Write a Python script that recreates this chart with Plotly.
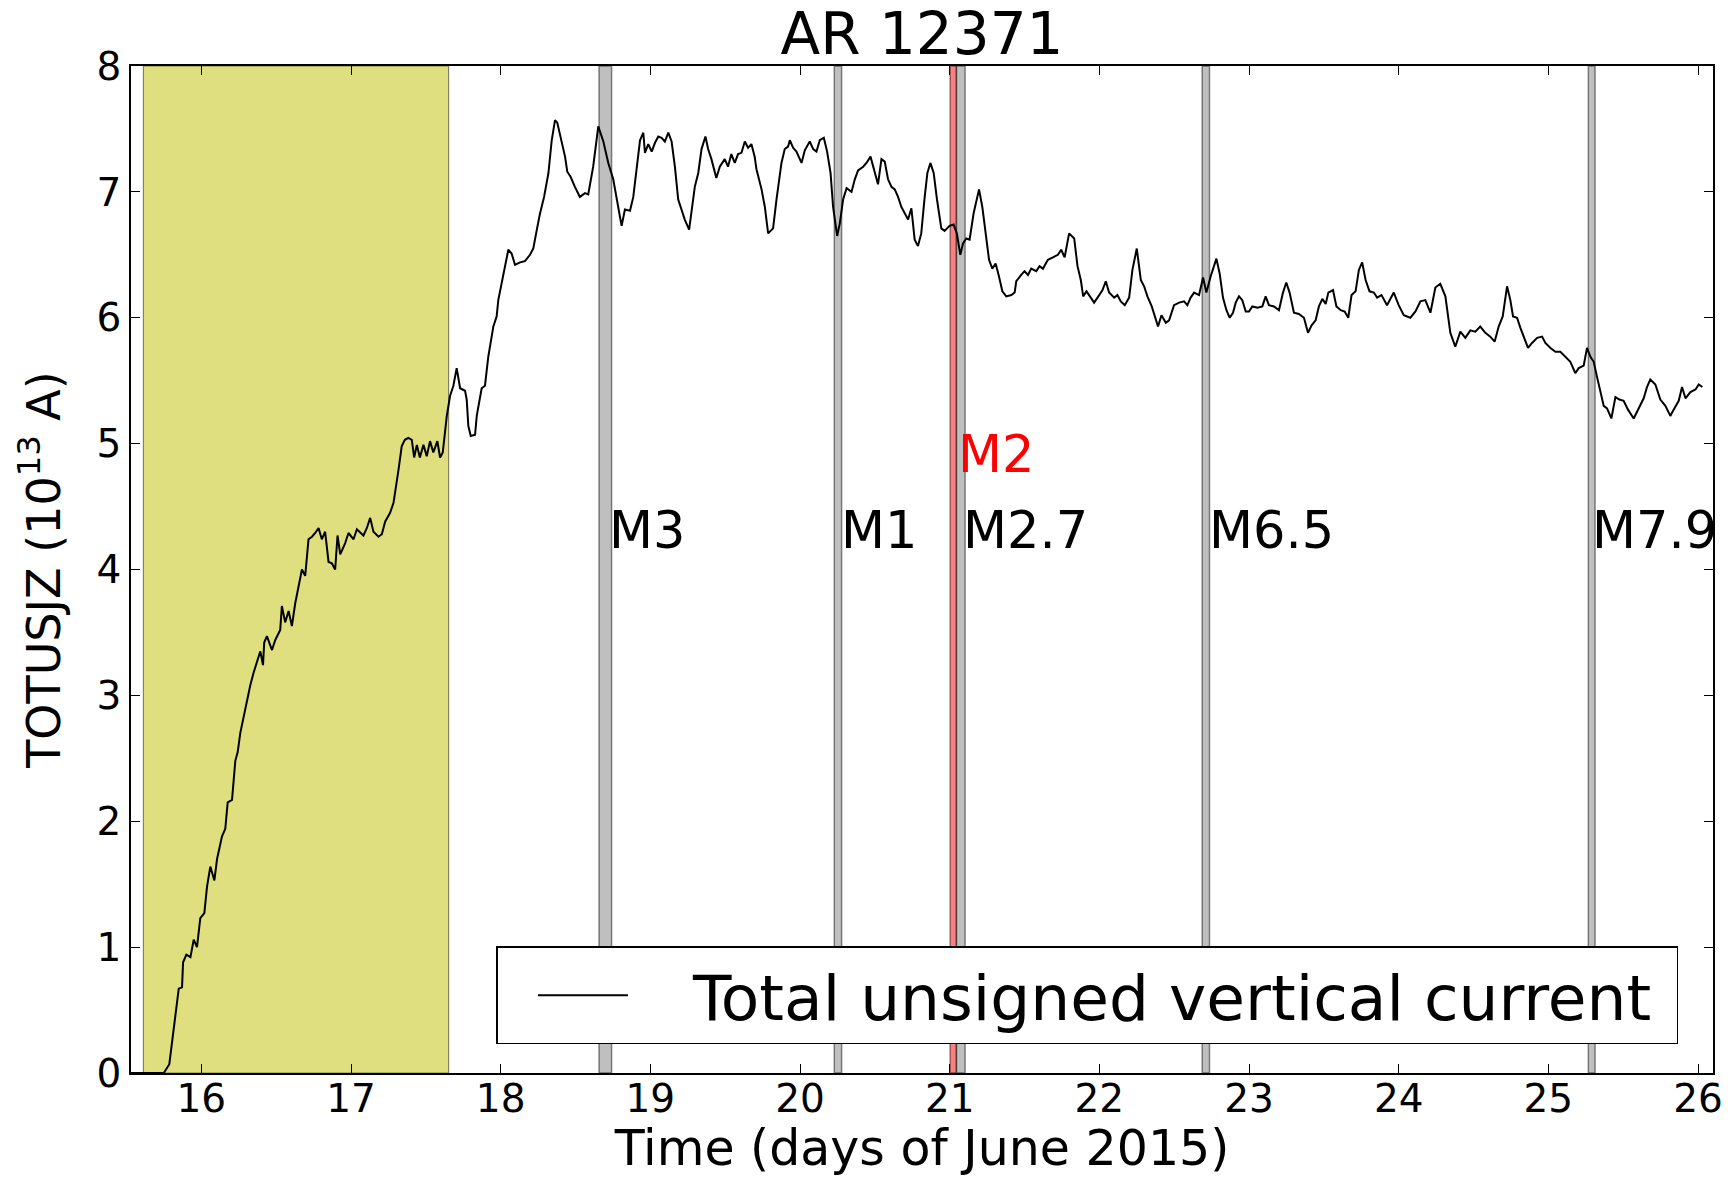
import plotly.graph_objects as go

# ---------------- data ----------------
time_days = [
    15.53, 15.60, 15.70, 15.749, 15.786, 15.815, 15.849, 15.871, 15.878, 15.90,
    15.927, 15.949, 15.971, 15.993, 16.02, 16.038, 16.06, 16.087, 16.105, 16.138,
    16.16, 16.176, 16.205, 16.227, 16.243, 16.26, 16.283, 16.305, 16.327, 16.349,
    16.371, 16.394, 16.412, 16.42, 16.438, 16.472, 16.494, 16.527, 16.538, 16.56,
    16.583, 16.605, 16.627, 16.654, 16.672, 16.694, 16.716, 16.739, 16.761, 16.783,
    16.805, 16.827, 16.85, 16.872, 16.894, 16.91, 16.928, 16.961, 16.983, 17.017,
    17.039, 17.083, 17.106, 17.128, 17.15, 17.184, 17.206, 17.228, 17.261, 17.284,
    17.295, 17.317, 17.339, 17.36, 17.383, 17.406, 17.422, 17.44, 17.46, 17.484,
    17.506, 17.528, 17.55, 17.577, 17.595, 17.613, 17.64, 17.662, 17.684, 17.706,
    17.729, 17.762, 17.773, 17.784, 17.80, 17.829, 17.84, 17.873, 17.895, 17.917,
    17.951, 17.973, 17.984, 18.007, 18.029, 18.051, 18.073, 18.096, 18.129, 18.162,
    18.196, 18.218, 18.24, 18.263, 18.29, 18.319, 18.341, 18.363, 18.378, 18.407,
    18.43, 18.445, 18.467, 18.496, 18.529, 18.563, 18.585, 18.618, 18.652, 18.686,
    18.719, 18.752, 18.786, 18.808, 18.83, 18.864, 18.886, 18.908, 18.931, 18.953,
    18.964, 18.986, 19.009, 19.031, 19.053, 19.075, 19.097, 19.12, 19.142, 19.164,
    19.186, 19.208, 19.23, 19.259, 19.275, 19.297, 19.32, 19.342, 19.368, 19.386,
    19.408, 19.441, 19.464, 19.497, 19.519, 19.541, 19.564, 19.586, 19.609, 19.631,
    19.653, 19.675, 19.697, 19.709, 19.743, 19.765, 19.787, 19.82, 19.843, 19.876,
    19.898, 19.92, 19.932, 19.954, 19.976, 20.01, 20.032, 20.065, 20.088, 20.11,
    20.132, 20.159, 20.181, 20.204, 20.221, 20.239, 20.248, 20.266, 20.288, 20.311,
    20.344, 20.366, 20.388, 20.422, 20.444, 20.471, 20.499, 20.521, 20.544, 20.566,
    20.588, 20.611, 20.633, 20.655, 20.677, 20.699, 20.722, 20.744, 20.766, 20.788,
    20.81, 20.833, 20.851, 20.871, 20.893, 20.915, 20.944, 20.966, 20.999, 21.026,
    21.048, 21.071, 21.089, 21.111, 21.133, 21.16, 21.178, 21.196, 21.218, 21.24,
    21.263, 21.285, 21.307, 21.329, 21.352, 21.378, 21.412, 21.434, 21.445, 21.478,
    21.50, 21.523, 21.545, 21.578, 21.60, 21.623, 21.656, 21.69, 21.723, 21.745,
    21.768, 21.798, 21.832, 21.854, 21.876, 21.892, 21.914, 21.937, 21.965, 21.999,
    22.021, 22.043, 22.065, 22.099, 22.121, 22.143, 22.17, 22.199, 22.221, 22.25,
    22.277, 22.299, 22.321, 22.35, 22.377, 22.392, 22.415, 22.444, 22.466, 22.499,
    22.533, 22.566, 22.588, 22.61, 22.633, 22.666, 22.693, 22.715, 22.744, 22.782,
    22.804, 22.826, 22.849, 22.871, 22.893, 22.911, 22.933, 22.955, 22.978, 23.00,
    23.022, 23.056, 23.089, 23.111, 23.133, 23.167, 23.20, 23.227, 23.249, 23.271,
    23.30, 23.333, 23.367, 23.394, 23.418, 23.445, 23.467, 23.49, 23.512, 23.53,
    23.561, 23.584, 23.613, 23.639, 23.663, 23.685, 23.712, 23.734, 23.756, 23.779,
    23.805, 23.834, 23.856, 23.885, 23.922, 23.967, 24.00, 24.034, 24.078, 24.112,
    24.145, 24.178, 24.212, 24.245, 24.278, 24.312, 24.345, 24.378, 24.412, 24.445,
    24.479, 24.512, 24.545, 24.579, 24.612, 24.641, 24.668, 24.695, 24.724, 24.746,
    24.764, 24.791, 24.813, 24.835, 24.864, 24.891, 24.925, 24.958, 24.98, 25.014,
    25.047, 25.08, 25.114, 25.147, 25.18, 25.203, 25.236, 25.258, 25.281, 25.303,
    25.325, 25.348, 25.37, 25.392, 25.421, 25.448, 25.475, 25.503, 25.532, 25.57,
    25.603, 25.637, 25.659, 25.681, 25.715, 25.748, 25.782, 25.815, 25.837, 25.871,
    25.893, 25.916, 25.949, 25.983, 26.005, 26.029,
]

totusjz = [
    0.0, 0.0, 0.0, 0.0, 0.07, 0.33, 0.67, 0.68, 0.88, 0.94,
    0.92, 1.06, 1.00, 1.23, 1.27, 1.48, 1.64, 1.53, 1.70, 1.88,
    1.94, 2.15, 2.17, 2.48, 2.55, 2.70, 2.83, 2.97, 3.08, 3.18,
    3.27, 3.35, 3.24, 3.42, 3.47, 3.36, 3.44, 3.52, 3.71, 3.58,
    3.67, 3.55, 3.73, 3.91, 4.00, 3.95, 4.24, 4.26, 4.29, 4.33,
    4.24, 4.30, 4.06, 4.05, 4.00, 4.27, 4.12, 4.21, 4.29, 4.24,
    4.32, 4.27, 4.33, 4.41, 4.30, 4.26, 4.28, 4.38, 4.45, 4.53,
    4.61, 4.79, 4.98, 5.03, 5.045, 5.03, 4.89, 4.99, 4.89, 4.99,
    4.90, 5.02, 4.93, 5.02, 4.89, 4.93, 5.22, 5.38, 5.46, 5.60,
    5.44, 5.42, 5.35, 5.14, 5.06, 5.07, 5.22, 5.44, 5.46, 5.69,
    5.93, 6.01, 6.14, 6.28, 6.41, 6.54, 6.51, 6.42, 6.44, 6.45,
    6.50, 6.55, 6.69, 6.83, 6.96, 7.15, 7.41, 7.57, 7.55, 7.41,
    7.28, 7.16, 7.12, 7.04, 6.96, 6.99, 6.98, 7.20, 7.52, 7.40,
    7.23, 7.10, 6.89, 6.73, 6.86, 6.85, 6.96, 7.20, 7.41, 7.47,
    7.31, 7.38, 7.32, 7.39, 7.44, 7.43, 7.40, 7.47, 7.40, 7.20,
    6.94, 6.86, 6.78, 6.70, 6.86, 7.04, 7.15, 7.34, 7.44, 7.34,
    7.26, 7.11, 7.20, 7.26, 7.20, 7.30, 7.23, 7.30, 7.31, 7.40,
    7.35, 7.38, 7.28, 7.18, 7.02, 6.88, 6.67, 6.71, 6.94, 7.23,
    7.34, 7.36, 7.41, 7.35, 7.32, 7.23, 7.33, 7.40, 7.34, 7.32,
    7.41, 7.43, 7.32, 7.15, 6.88, 6.73, 6.65, 6.75, 6.94, 7.03,
    7.00, 7.10, 7.17, 7.20, 7.23, 7.28, 7.16, 7.06, 7.26, 7.24,
    7.10, 7.04, 7.02, 6.96, 6.88, 6.83, 6.78, 6.87, 6.62, 6.57,
    6.67, 6.96, 7.15, 7.23, 7.15, 6.94, 6.71, 6.69, 6.73, 6.74,
    6.67, 6.50, 6.59, 6.63, 6.62, 6.83, 6.94, 7.02, 6.88, 6.67,
    6.46, 6.39, 6.43, 6.33, 6.21, 6.17, 6.18, 6.20, 6.29, 6.34,
    6.37, 6.34, 6.39, 6.37, 6.41, 6.39, 6.46, 6.48, 6.50, 6.54,
    6.48, 6.67, 6.63, 6.41, 6.30, 6.17, 6.21, 6.17, 6.12, 6.18,
    6.22, 6.29, 6.20, 6.16, 6.18, 6.13, 6.10, 6.16, 6.38, 6.55,
    6.30, 6.25, 6.17, 6.09, 5.98, 5.93, 6.02, 5.96, 5.98, 6.10,
    6.12, 6.13, 6.10, 6.16, 6.20, 6.18, 6.32, 6.20, 6.33, 6.47,
    6.35, 6.16, 6.06, 6.00, 6.04, 6.12, 6.17, 6.14, 6.05, 6.05,
    6.09, 6.08, 6.09, 6.17, 6.10, 6.09, 6.06, 6.20, 6.28, 6.20,
    6.04, 6.03, 6.00, 5.88, 5.94, 5.98, 6.09, 6.15, 6.11, 6.20,
    6.22, 6.09, 6.06, 6.05, 6.00, 6.18, 6.21, 6.38, 6.44, 6.30,
    6.21, 6.20, 6.16, 6.18, 6.10, 6.20, 6.10, 6.02, 6.00, 6.05,
    6.13, 6.14, 6.04, 6.24, 6.27, 6.17, 5.88, 5.77, 5.89, 5.84,
    5.90, 5.89, 5.93, 5.88, 5.85, 5.81, 5.93, 6.01, 6.25, 6.14,
    6.01, 6.00, 5.92, 5.85, 5.76, 5.80, 5.84, 5.85, 5.80, 5.76,
    5.73, 5.73, 5.69, 5.65, 5.56, 5.60, 5.62, 5.76, 5.69, 5.65,
    5.53, 5.40, 5.30, 5.28, 5.20, 5.37, 5.35, 5.34, 5.27, 5.20,
    5.28, 5.36, 5.45, 5.51, 5.47, 5.35, 5.30, 5.22, 5.27, 5.34,
    5.45, 5.36, 5.41, 5.43, 5.47, 5.45,
]

series_name = "Total unsigned vertical current"

# highlighted interval (yellow)
shade_start = 15.613
shade_end = 17.652

# flares: label, start, end, label position, colour key
flare_labels = ["M3", "M1", "M2", "M2.7", "M6.5", "M7.9"]
flare_start = [18.657, 20.229, 21.003, 21.045, 22.687, 25.267]
flare_end = [18.741, 20.278, 21.045, 21.103, 22.736, 25.312]
flare_label_x = [18.71, 20.26, 21.04, 21.078, 22.722, 25.28]
flare_kind = ["gray", "gray", "red", "gray", "gray", "gray"]

x_ticks = list(range(16, 27))
y_ticks = list(range(0, 9))

# ---------------- figure ----------------
FONT = "DejaVu Sans"
NB = "\u00a0"

fig = go.Figure()
fig.add_trace(go.Scatter(
    x=time_days, y=totusjz, mode="lines", name=NB * 3 + series_name + NB,
    line=dict(color="black", width=2),
    showlegend=True,
))

shapes = []
shapes.append(dict(
    type="rect", xref="x", yref="y", x0=shade_start, x1=shade_end, y0=0, y1=8,
    fillcolor="#DFDF80", line=dict(color="rgba(0,0,0,0.45)", width=1.2),
    layer="below",
))
fill_map = {"gray": "rgba(128,128,128,0.5)", "red": "rgba(255,0,0,0.5)"}
for s, e, k in zip(flare_start, flare_end, flare_kind):
    shapes.append(dict(
        type="rect", xref="x", yref="y", x0=s, x1=e, y0=0, y1=8,
        fillcolor=fill_map[k], line=dict(color="rgba(0,0,0,0.45)", width=1.5),
        layer="below",
    ))

annotations = []
for lab, lx, k in zip(flare_labels, flare_label_x, flare_kind):
    annotations.append(dict(
        x=lx, y=(4.91 if k == "red" else 4.31), xref="x", yref="y",
        text=lab, showarrow=False, xanchor="left", yanchor="middle",
        font=dict(family=FONT, size=51, color="red" if k == "red" else "black"),
    ))

axis_common = dict(
    showline=True, linecolor="black", linewidth=1.5, mirror="ticks",
    ticks="inside", ticklen=9, tickwidth=1.3, tickcolor="black",
    showgrid=False, zeroline=False, automargin=False,
    tickfont=dict(family=FONT, size=39, color="black"),
)

fig.update_layout(
    width=1730, height=1177,
    margin=dict(l=131, r=17, t=66, b=104),
    paper_bgcolor="white", plot_bgcolor="white",
    title=dict(text="AR 12371", x=0.5, xref="paper", xanchor="center",
               y=1 - 34 / 1177, yref="container", yanchor="middle",
               font=dict(family=FONT, size=58, color="black")),
    xaxis=dict(range=[15.53, 26.1], tickvals=x_ticks, **axis_common,
               ticklabelstandoff=-10,
               title=dict(text="Time (days of June 2015)", standoff=12,
                          font=dict(family=FONT, size=49, color="black"))),
    yaxis=dict(range=[0, 8], tickvals=y_ticks, **axis_common,
               title=dict(text="TOTUSJZ (10<sup>13</sup> A)",
                          standoff=22,
                          font=dict(family=FONT, size=46, color="black"))),
    shapes=shapes,
    annotations=annotations,
    showlegend=True,
    legend=dict(x=0.231, xanchor="left", y=0.0285, yanchor="bottom",
                xref="paper", yref="paper",
                bgcolor="white", bordercolor="black", borderwidth=1.5,
                font=dict(family=FONT, size=63, color="black"),
                itemwidth=90, indentation=35),
)

fig.write_html("out.html")
